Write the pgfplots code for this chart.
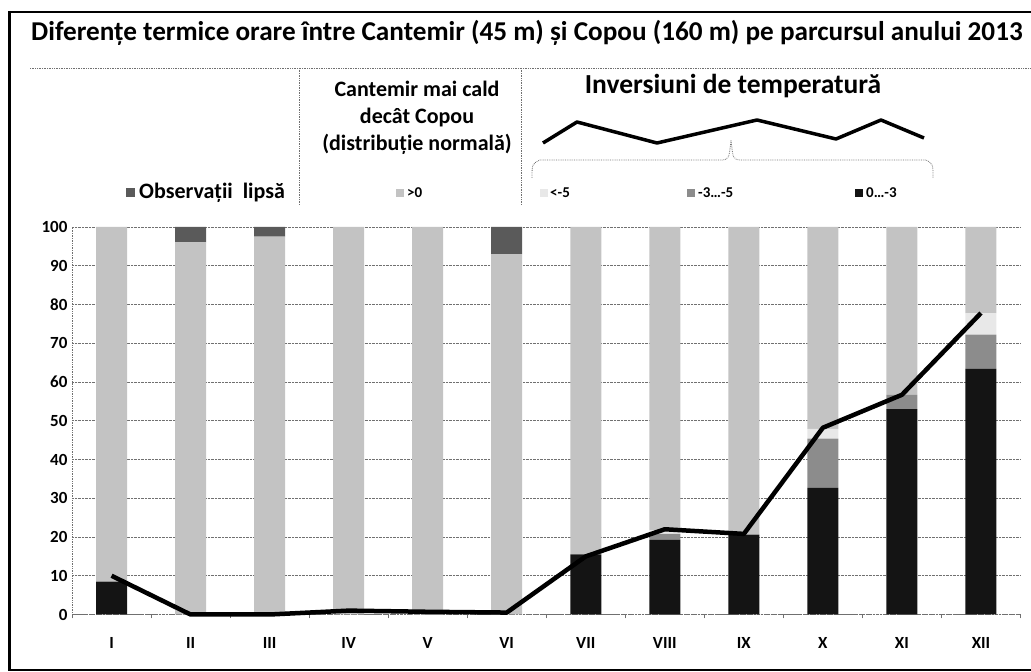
\documentclass[border=0pt]{standalone}
\usepackage{fontspec}
\setmainfont{Carlito}
\usepackage{pgfplots}
\usepackage{pgfplotstable}
\pgfplotsset{compat=1.18}
\definecolor{cMiss}{HTML}{5A5A5A}
\definecolor{cPos}{HTML}{C3C3C3}
\definecolor{cLt}{HTML}{E8E8E8}
\definecolor{cMid}{HTML}{8C8C8C}
\definecolor{cDark}{HTML}{141414}
\definecolor{cGrid}{HTML}{707070}
\newcommand\fs[1]{\fontsize{#1}{#1}\selectfont\bfseries}

\pgfplotstableread{
x a b c d e line
0 8.5 0 0 91.5 0 10
1 0 0 0 96 4 0
2 0 0 0 97.5 2.5 0
3 0 0 0 100 0 1
4 0 0 0 100 0 0.7
5 0 0 0 93 7 0.5
6 15.5 0 0 84.5 0 15
7 19.3 1.5 1 78.2 0 22
8 20.6 0 0 79.4 0 20.8
9 32.7 12.7 2.5 52.1 0 48.2
10 53 3.7 0 43.3 0 56.7
11 63.4 8.8 5.6 22.2 0 77.8
}\data

\begin{document}
\begin{tikzpicture}[x=1pt,y=1pt]
\path[use as bounding box] (0,0) rectangle (1031,672);
% frame
\draw[line width=2pt] (1040,660) -- (9.5,660) -- (9.5,2) -- (1040,2);
\draw[line width=3pt] (9.5,661) -- (9.5,1);

\begin{axis}[at={(72pt,57.5pt)}, anchor=south west, scale only axis,
  width=948.5pt, height=387.5pt,
  xmin=-0.5, xmax=11.5, ymin=0, ymax=100,
  ybar stacked, bar width=31pt,
  xtick={0,...,11},
  xticklabels={I,II,III,IV,V,VI,VII,VIII,IX,X,XI,XII},
  ytick={0,10,...,100},
  extra x ticks={-0.5,0.5,...,11.5}, extra x tick labels={},
  extra x tick style={major tick length=4pt, tick align=outside, tick style={cGrid, line width=0.5pt}},
  major tick length=0pt,
  ymajorgrids, grid style={densely dotted, cGrid, line width=0.7pt},
  axis x line*=bottom, axis y line*=left,
  axis line style={densely dotted, cGrid, line width=0.7pt},
  /pgf/number format/assume math mode=true,
  ticklabel style={font=\fs{17}},
  yticklabel style={anchor=east, xshift=-1pt},
  xticklabel style={yshift=-19pt},
  every axis plot/.append style={draw=none},
]
\addplot[fill=cDark] table[x=x,y=a]{\data};
\addplot[fill=cMid] table[x=x,y=b]{\data};
\addplot[fill=cLt] table[x=x,y=c]{\data};
\addplot[fill=cPos] table[x=x,y=d]{\data};
\addplot[fill=cMiss] table[x=x,y=e]{\data};
\end{axis}

\begin{axis}[at={(72pt,57.5pt)}, anchor=south west, scale only axis,
  width=948.5pt, height=387.5pt,
  xmin=-0.5, xmax=11.5, ymin=0, ymax=100, hide axis, clip=false]
\addplot[black, line width=4.5pt, line join=round, mark=none] table[x=x,y=line]{\data};
\end{axis}

% title
\node[anchor=base west, inner sep=0] at (31,631) {\fs{27.2}Diferențe termice orare între Cantemir (45 m) și Copou (160 m) pe parcursul anului 2013};
% header separators
\draw[densely dotted, cGrid, line width=0.7pt] (30,604) -- (1031,604);
\draw[densely dotted, cGrid, line width=0.7pt] (299,604) -- (299,467);
\draw[densely dotted, cGrid, line width=0.7pt] (521,604) -- (521,467);
% header text
\node[anchor=base, inner sep=0] at (417,575) {\fs{22}Cantemir mai cald};
\node[anchor=base, inner sep=0] at (417,548) {\fs{22}decât Copou};
\node[anchor=base, inner sep=0] at (417,521) {\fs{22}(distribuție normală)};
\node[anchor=base, inner sep=0] at (733,578) {\fs{27.5}Inversiuni de temperatură};
% zigzag legend line
\draw[black, line width=3.5pt, line join=round] (543,529) -- (577,550) -- (657,529) -- (757,552) -- (836,533) -- (881,552) -- (924,534);
% brace
\draw[densely dotted, cGrid, line width=0.8pt] (532,494) .. controls (532,508) .. (540,512) -- (722,512) .. controls (729,513) .. (731,532) .. controls (733,513) .. (740,512) -- (926,512) .. controls (933,508) .. (933,494);
% legend entries
\fill[cMiss] (126,475) rectangle (135,484);
\node[anchor=base west, inner sep=0] at (139,473) {\fs{22}Observații\ \ lipsă};
\fill[cPos] (396,475) rectangle (404,483);
\node[anchor=base west, inner sep=0] at (407,474) {\fs{15}>0};
\fill[cLt] (540,475) rectangle (548,483);
\node[anchor=base west, inner sep=0] at (550,474) {\fs{15}<-5};
\fill[cMid] (687,475) rectangle (695,483);
\node[anchor=base west, inner sep=0] at (698,474) {\fs{15}-3…-5};
\fill[cDark] (855,475) rectangle (863,483);
\node[anchor=base west, inner sep=0] at (866,474) {\fs{15}0…-3};
\end{tikzpicture}
\end{document}
